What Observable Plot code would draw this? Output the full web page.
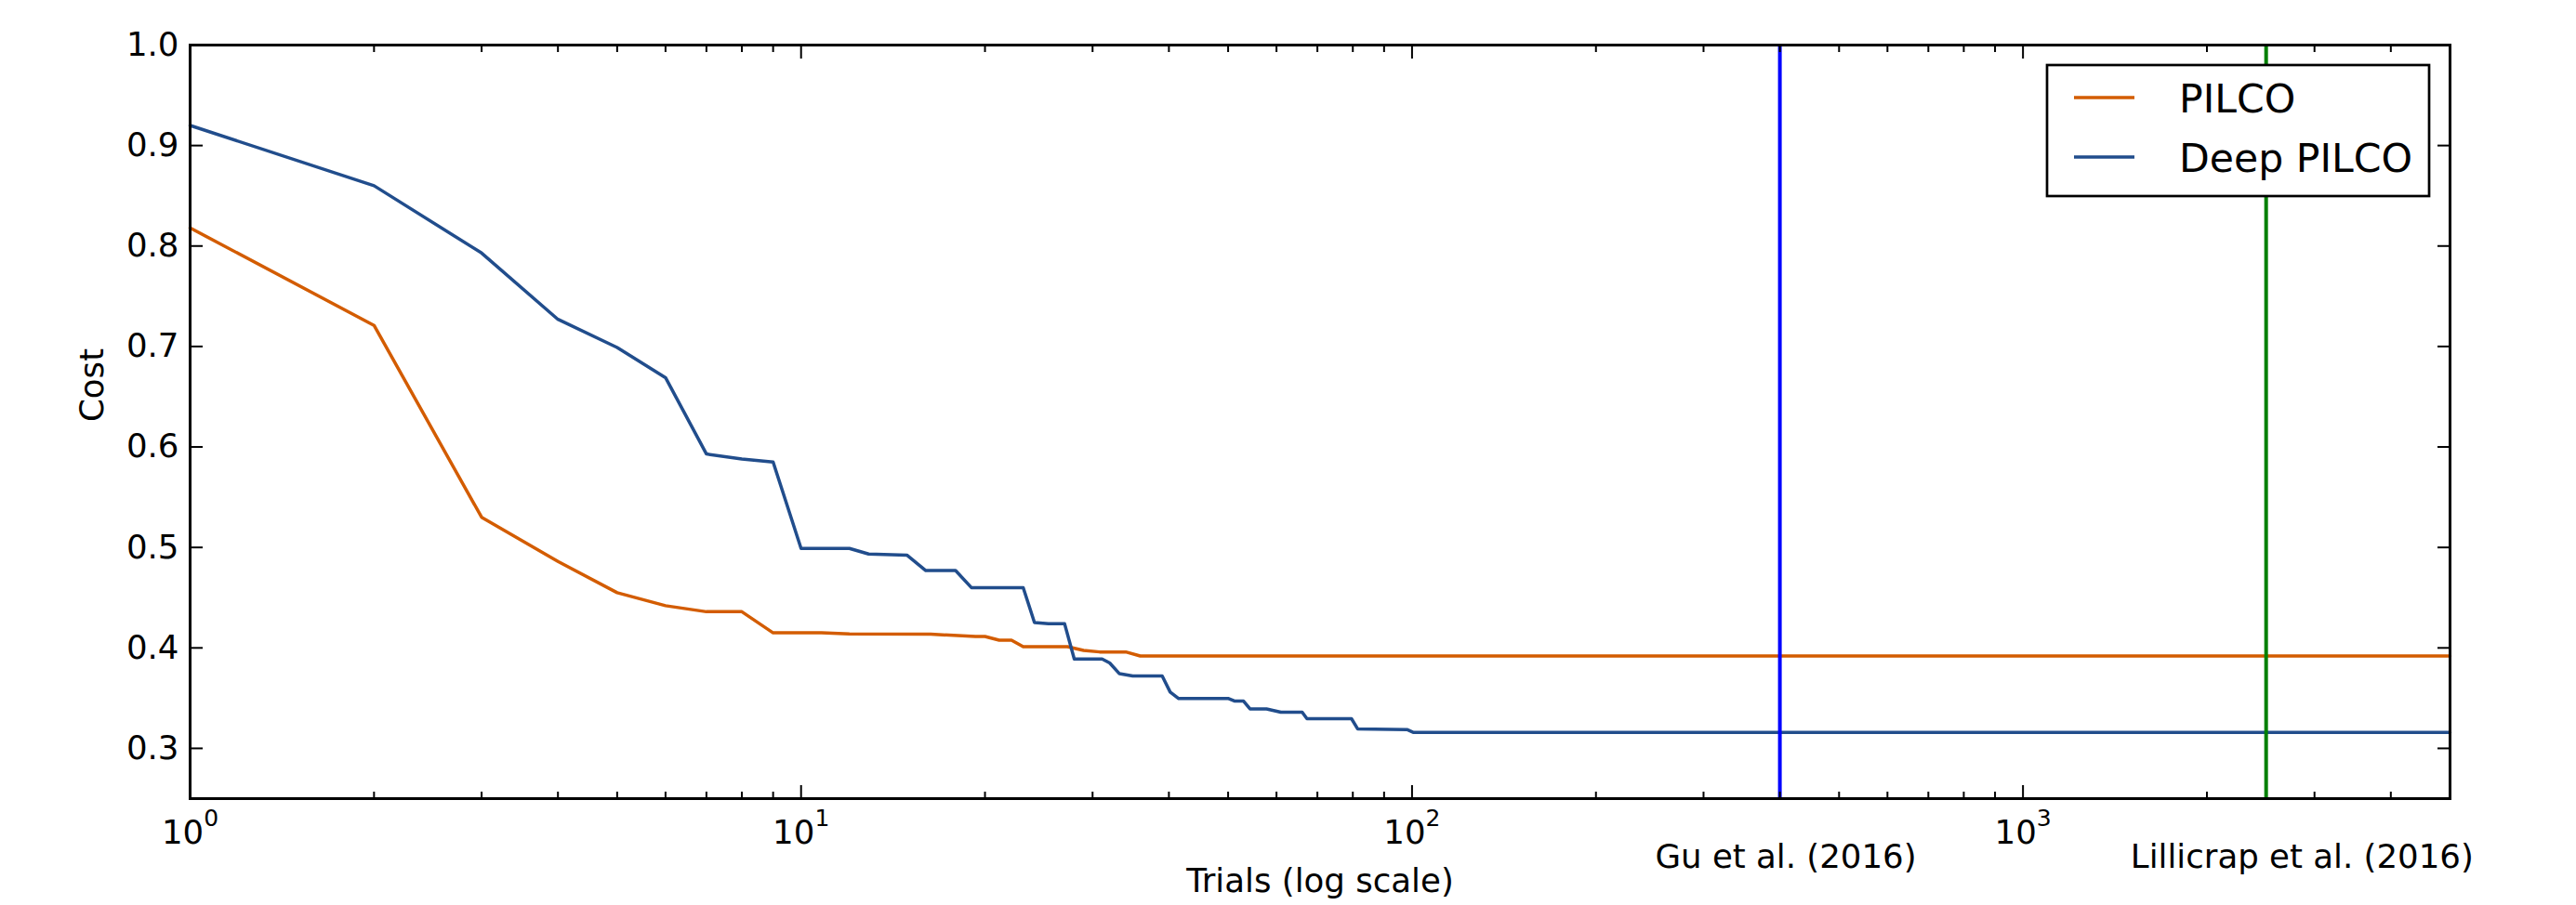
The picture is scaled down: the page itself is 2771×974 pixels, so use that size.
<!DOCTYPE html>
<html>
<head>
<meta charset="utf-8">
<script src="https://cdn.jsdelivr.net/npm/d3@7"></script>
<script src="https://cdn.jsdelivr.net/npm/@observablehq/plot@0.6"></script>
<style>
  html, body { margin: 0; padding: 0; background: #fff; }
  svg { display: block; }
</style>
</head>
<body>
<div id="chart"></div>
<script>
// ---- data ----
const seriesNames = ["PILCO", "Deep PILCO"];
const seriesColors = ["#d35c00", "#214d8c"];

const pilcoTrials = [1, 2, 3, 4, 5, 6, 7, 8, 9, 10, 10.8, 12, 16.3, 19.3, 20, 21.1, 22.1, 23.1, 27.3, 29, 30.8, 34, 35.9, 5000];
const pilcoCost   = [0.818, 0.721, 0.530, 0.486, 0.455, 0.442, 0.436, 0.436, 0.415, 0.415, 0.415, 0.414, 0.4136, 0.4114, 0.4114, 0.4077, 0.4077, 0.4012, 0.4012, 0.3975, 0.396, 0.396, 0.392, 0.392];

const deepTrials = [1, 2, 3, 4, 5, 6, 7, 8, 9, 10, 12, 12.9, 14.9, 16, 17.9, 19, 23.1, 24.1, 25.4, 27, 28, 31.1, 32, 33.2, 34.9, 39, 40.2, 41.5, 50.1, 51.3, 53, 54.3, 57.8, 61, 66.1, 67.3, 79.6, 81.5, 98.1, 100.4, 5000];
const deepCost   = [0.920, 0.860, 0.793, 0.727, 0.699, 0.669, 0.593, 0.588, 0.585, 0.499, 0.499, 0.4934, 0.4924, 0.477, 0.477, 0.460, 0.460, 0.4253, 0.424, 0.424, 0.389, 0.389, 0.385, 0.3743, 0.372, 0.372, 0.356, 0.3496, 0.3496, 0.347, 0.347, 0.3393, 0.3393, 0.336, 0.336, 0.3295, 0.3295, 0.3193, 0.3187, 0.316, 0.316];

const refNames  = ["Gu et al. (2016)", "Lillicrap et al. (2016)"];
const refTrials = [400, 2500];
const refLabelTrials = [250, 1500];
const refColors = ["#0000ff", "#008000"];

const xMajorTicks = [1, 10, 100, 1000];
const xMinorTicks = [2, 3, 4, 5, 6, 7, 8, 9, 20, 30, 40, 50, 60, 70, 80, 90, 200, 300, 400, 500, 600, 700, 800, 900, 2000, 3000, 4000];
const yTicks = [0.3, 0.4, 0.5, 0.6, 0.7, 0.8, 0.9, 1.0];

const xLabel = "Trials (log scale)";
const yLabel = "Cost";

// ---- build ----
const rows = [
  ...pilcoTrials.map((t, i) => ({series: seriesNames[0], trials: t, cost: pilcoCost[i]})),
  ...deepTrials.map((t, i) => ({series: seriesNames[1], trials: t, cost: deepCost[i]}))
];

const W = 2771, H = 974;
const M = {left: 204, right: 136, top: 48, bottom: 115};
const FS = 35.6;
const tickW = 2;

const tickAxes = [
  Plot.axisX(xMajorTicks, {anchor: "bottom", tickSize: -14, fill: "none", label: null, strokeWidth: tickW}),
  Plot.axisX(xMinorTicks, {anchor: "bottom", tickSize: -7, fill: "none", label: null, strokeWidth: tickW}),
  Plot.axisX(xMajorTicks, {anchor: "top", tickSize: -14, fill: "none", label: null, strokeWidth: tickW}),
  Plot.axisX(xMinorTicks, {anchor: "top", tickSize: -7, fill: "none", label: null, strokeWidth: tickW}),
  Plot.axisY(yTicks, {anchor: "left", tickSize: -14, fill: "none", label: null, strokeWidth: tickW}),
  Plot.axisY(yTicks, {anchor: "right", tickSize: -14, fill: "none", label: null, strokeWidth: tickW})
];

const plot = Plot.plot({
  width: W,
  height: H,
  marginLeft: M.left,
  marginRight: M.right,
  marginTop: M.top,
  marginBottom: M.bottom,
  style: {fontFamily: "'DejaVu Sans', sans-serif", fontSize: FS + "px", background: "#fff", color: "#000", overflow: "visible"},
  x: {type: "log", domain: [1, 5000]},
  y: {domain: [0.25, 1.0]},
  color: {domain: seriesNames, range: seriesColors},
  marks: [
    Plot.line(rows, {x: "trials", y: "cost", stroke: "series", strokeWidth: 3.5, strokeLinejoin: "round"}),
    ...refTrials.map((t, i) => Plot.ruleX([t], {x: d => d, stroke: refColors[i], strokeWidth: 4})),
    Plot.frame({stroke: "#000", strokeWidth: 3}),
    ...tickAxes,
    // x tick labels
    Plot.text(xMajorTicks, {x: d => d, text: d => "10^" + Math.round(Math.log10(d)), frameAnchor: "bottom", lineAnchor: "bottom", dy: 48, fontSize: FS, textAnchor: "middle"}),
    // y tick labels
    Plot.text(yTicks, {y: d => d, text: d => d.toFixed(1), frameAnchor: "left", textAnchor: "end", lineAnchor: "middle", dx: -12, fontSize: FS}),
    // reference labels
    Plot.text(refNames, {x: (d, i) => refLabelTrials[i], text: d => d, frameAnchor: "bottom", textAnchor: "start", lineAnchor: "bottom", dy: 74, fontSize: FS}),
    // axis labels
    Plot.text([xLabel], {text: d => d, frameAnchor: "bottom", lineAnchor: "bottom", dy: 100, fontSize: FS}),
    Plot.text([yLabel], {text: d => d, frameAnchor: "left", rotate: -90, lineAnchor: "bottom", dx: -94, fontSize: FS})
  ]
});

const svg = d3.select(plot);

// superscripts for log tick labels
svg.selectAll("text").each(function () {
  const m = /^10\^(\d+)$/.exec(this.textContent);
  if (m) {
    this.textContent = "10";
    d3.select(this).append("tspan").attr("dy", -19).attr("font-size", 25).text(m[1]);
  }
});

// legend inside the plot (top-right)
const lgW = 411, lgH = 141;
const lx = W - M.right - 22 - lgW, ly = M.top + 22;
const lg = svg.append("g").attr("font-family", "'DejaVu Sans', sans-serif").attr("text-anchor", "start");
lg.append("rect").attr("x", lx).attr("y", ly).attr("width", lgW).attr("height", lgH)
  .attr("fill", "#fff").attr("stroke", "#000").attr("stroke-width", 2.7);
seriesNames.forEach((n, i) => {
  const cy = ly + 35 + i * 64;
  lg.append("line").attr("x1", lx + 29).attr("x2", lx + 94).attr("y1", cy).attr("y2", cy)
    .attr("stroke", seriesColors[i]).attr("stroke-width", 3.5);
  lg.append("text").attr("x", lx + 142).attr("y", cy + 15.5).attr("font-size", 42.6)
    .attr("text-anchor", "start").attr("fill", "#000").text(n);
});

document.getElementById("chart").appendChild(plot);
</script>
</body>
</html>
